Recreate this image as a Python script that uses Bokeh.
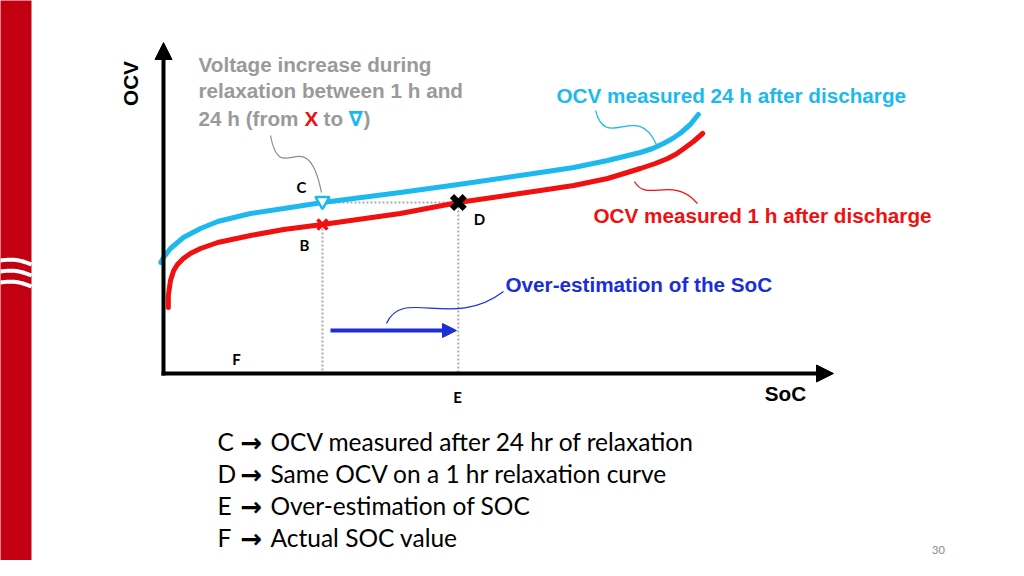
import numpy as np
from bokeh.plotting import figure
from bokeh.models import Range1d, Label, Arrow, NormalHead
from bokeh.embed import file_html
from bokeh.resources import INLINE

# ---------------- data (SoC in %, OCV in V) ----------------
soc_24h = [-0.5, 0.0, 1.3, 3.7, 6.9, 10.1, 16.2, 22.4, 29.6, 44.1, 54.9, 70.2, 76.4, 82.7, 88.8, 91.1, 93.1, 94.8, 96.3, 98.1, 99.6]
ocv_24h = [3.444, 3.464, 3.500, 3.544, 3.580, 3.608, 3.640, 3.660, 3.684, 3.724, 3.756, 3.804, 3.824, 3.852, 3.884, 3.900, 3.920, 3.940, 3.962, 3.996, 4.036]

soc_1h = [0.9, 0.9, 1.3, 1.9, 2.6, 3.7, 5.0, 6.9, 10.1, 16.2, 22.4, 29.6, 44.1, 54.9, 70.2, 76.4, 82.7, 88.8, 91.6, 93.9, 95.5, 96.8, 98.7, 100.4]
ocv_1h = [3.264, 3.312, 3.372, 3.412, 3.436, 3.460, 3.480, 3.500, 3.524, 3.552, 3.576, 3.596, 3.640, 3.684, 3.732, 3.752, 3.780, 3.820, 3.840, 3.860, 3.878, 3.898, 3.928, 3.960]

soc_actual = 29.6      # F
soc_estimated = 54.9   # E
ocv_C = 3.684          # measured after 24 h
ocv_B = 3.596          # on 1 h curve at actual SoC
ocv_floor = 3.0

legend_lines = ["OCV measured after 24 hr of relaxation",
                "Same OCV on a 1 hr relaxation curve",
                "Over-estimation of SOC",
                "Actual SOC value"]
legend_keys = ["C", "D", "E", "F"]

# ---------------- layout mapping (pixel positions of the reference) ----------------
X0, KX = 163.0, 5.37     # px of SoC 0, px per %
Y0, KY = 373.0, 250.0    # px of 3.0 V, px per V

def dx(px):
    return (px - X0) / KX

def dy(py):
    return ocv_floor + (Y0 - py) / KY

W, H = 1008, 560
p = figure(width=W, height=H, x_range=Range1d(dx(0), dx(W)), y_range=Range1d(dy(H), dy(0)),
           output_backend="svg", toolbar_location=None, min_border=0,
           x_axis_location=None, y_axis_location=None)
p.grid.visible = False
p.outline_line_color = None
p.background_fill_color = "white"
p.border_fill_color = "white"

# left red bar with white waves
p.quad(left=dx(-5), right=dx(31), bottom=dy(600), top=dy(-5), color="#C20012", line_color=None)
t = np.linspace(-2, 31, 40)
for base in (260, 271, 282):
    yy = base + 4 * (t / 31) - 2.5 * np.sin(np.pi * t / 31)
    p.line([dx(v) for v in t], [dy(v) for v in yy], line_color="white", line_width=4)

# dotted guide lines
grey = "#ababab"
p.line([soc_actual, soc_estimated], [ocv_C, ocv_C], line_color=grey, line_width=2, line_dash="2 2")
p.line([soc_actual, soc_actual], [ocv_B, ocv_floor], line_color=grey, line_width=2, line_dash="2 2")
p.line([soc_estimated, soc_estimated], [ocv_C, ocv_floor], line_color=grey, line_width=2, line_dash="2 2")

# curves
cyan = "#1DB9EE"
red = "#F01010"
p.line(soc_24h, ocv_24h, line_color=cyan, line_width=5, line_cap="round", line_join="round")
p.line(soc_1h, ocv_1h, line_color=red, line_width=5, line_cap="round", line_join="round")

# axes as arrows
p.add_layout(Arrow(end=NormalHead(size=17, fill_color="black", line_color="black", line_width=1),
                   x_start=0, y_start=dy(375), x_end=0, y_end=dy(42),
                   line_color="black", line_width=4))
p.add_layout(Arrow(end=NormalHead(size=17, fill_color="black", line_color="black", line_width=1),
                   x_start=dx(161), y_start=ocv_floor, x_end=dx(833), y_end=ocv_floor,
                   line_color="black", line_width=4))

# over-estimation arrow
dblue = "#1B2ED8"
p.add_layout(Arrow(end=NormalHead(size=14, fill_color=dblue, line_color=dblue, line_width=1),
                   x_start=dx(330), y_start=dy(330), x_end=dx(456), y_end=dy(330),
                   line_color=dblue, line_width=4))

# wavy leader lines
def bez(pts, color):
    (x0, y0), (c0x, c0y), (c1x, c1y), (x1, y1) = pts
    p.bezier(x0=dx(x0), y0=dy(y0), cx0=dx(c0x), cy0=dy(c0y), cx1=dx(c1x), cy1=dy(c1y),
             x1=dx(x1), y1=dy(y1), line_color=color, line_width=1.2)

bez([(270, 135), (280, 190), (306, 118), (321, 192)], "#8c8c8c")
bez([(595, 110), (606, 152), (636, 100), (656, 144)], cyan)
bez([(634, 181), (646, 203), (672, 174), (697, 203)], red)
bez([(386, 323), (402, 286), (452, 330), (503, 291)], dblue)

# markers
p.scatter([soc_actual], [ocv_C + 0.006], marker="inverted_triangle", size=14, fill_color="white",
          line_color=cyan, line_width=2.5)
p.scatter([soc_actual], [ocv_B], marker="x", size=14, line_color=red, line_width=3.5)
p.scatter([soc_estimated], [ocv_C], marker="x", size=18, line_color="black", line_width=6)

# ---------------- texts ----------------
def lab(text, x, y, size, color="black", font="Liberation Sans", style="bold", align="left", angle=0.0):
    p.add_layout(Label(x=dx(x), y=dy(y), text=text, text_font=font, text_font_size=f"{size}px",
                       text_font_style=style, text_color=color, text_align=align,
                       text_baseline="middle", angle=angle))

gtxt = "#9a9a9a"
fs = 20.7
lab("Voltage increase during", 198, 64, fs, gtxt)
lab("relaxation between 1 h and", 198, 90, fs, gtxt)
lab("24 h (from", 198, 118, fs, gtxt)
lab("X", 304, 118, fs, red)
lab("to", 323, 118, fs, gtxt)
lab("\u2207", 348, 118, fs, cyan, font="DejaVu Sans")
lab(")", 363, 118, fs, gtxt)

lab("OCV measured 24 h after discharge", 556, 95, fs, cyan)
lab("OCV measured 1 h after discharge", 593, 215, fs, red)
lab("Over-estimation of the SoC", 505, 284, fs, dblue)
lab("OCV", 130, 83, fs, "black", align="center", angle=np.pi / 2)
lab("SoC", 785, 393, fs, "black", align="center")

for key, (x, y) in zip(["C", "D", "B", "F", "E"], [(301, 186), (479, 218), (304, 244), (236, 358), (457, 396)]):
    lab(key, x, y, 15, "black", font="Lato", align="center")

for i, (k, line) in enumerate(zip(legend_keys, legend_lines)):
    yy = 441 + 32 * i
    lab(k, 217, yy, 24.5, "black", font="Lato", style="normal")
    lab("\u2192", 240, yy + 1, 26, "black", font="DejaVu Sans", style="bold")
    lab(line, 270, yy, 24.5, "black", font="Lato", style="normal")

lab("30", 938, 549, 11, "#8a8a8a", font="Lato", style="normal", align="center")

open("out.html", "w").write(file_html(p, INLINE))
